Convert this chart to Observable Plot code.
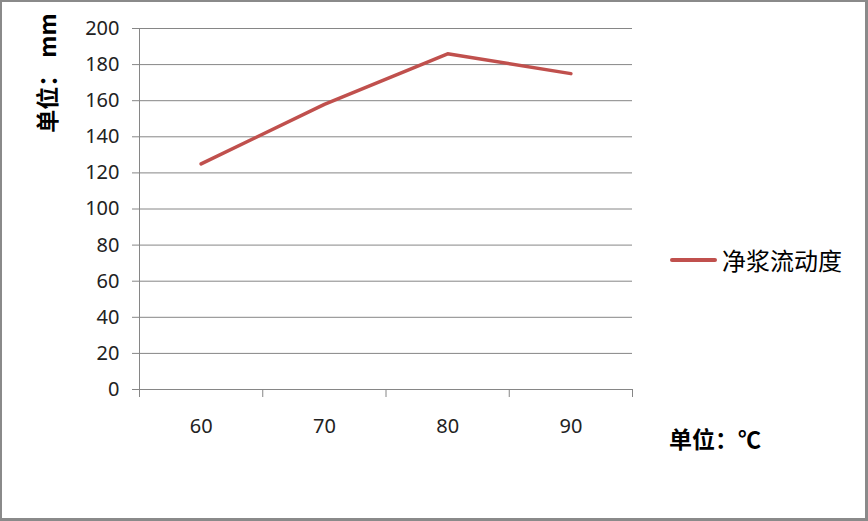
<!DOCTYPE html>
<html>
<head>
<meta charset="utf-8">
<script src="https://cdn.jsdelivr.net/npm/d3@7"></script>
<script src="https://cdn.jsdelivr.net/npm/@observablehq/plot@0.6"></script>
<style>
  html, body { margin: 0; padding: 0; background: #fff; }
  #wrap { position: relative; width: 868px; height: 521px; overflow: hidden; }
  #border { position: absolute; left: 0; top: 0; width: 868px; height: 521px; box-sizing: border-box; border: 2px solid #8a8a8a; border-right-width: 3px; border-bottom-width: 3px; pointer-events: none; }
  .lbl { position: absolute; font-family: "Noto Sans CJK SC", sans-serif; color: #000; white-space: nowrap; line-height: 1; }
  #ytitle { left: 46px; top: 73px; transform: translate(-50%, -50%) rotate(-90deg); font-weight: bold; font-size: 23px; }
  #ytitle .u { margin-left: 6px; }
  #xtitle { left: 669px; top: 427px; font-weight: bold; font-size: 23px; }
  #legend { left: 670px; top: 248px; font-size: 24px; display: flex; align-items: center; }
  #legend .sw { width: 47px; height: 4px; background: #C0504D; border-radius: 2px; margin-right: 5px; }
</style>
</head>
<body>
<div id="wrap">
  <div id="chart"></div>
  <div id="ytitle" class="lbl">单位：<span class="u">mm</span></div>
  <div id="xtitle" class="lbl">单位：℃</div>
  <div id="legend" class="lbl"><span class="sw"></span><span>净浆流动度</span></div>
  <div id="border"></div>
</div>
<script>
const temperatures = [60, 70, 80, 90];
const fluidity = [125, 158, 186, 175];
const yTicks = [0, 20, 40, 60, 80, 100, 120, 140, 160, 180, 200];
const xEdges = [55, 65, 75, 85, 95];
const seriesName = "净浆流动度";

const data = temperatures.map((t, i) => ({t, v: fluidity[i]}));
const gridColor = "#868686";

const chart = Plot.plot({
  width: 868,
  height: 521,
  marginLeft: 139,
  marginRight: 236,
  marginTop: 28,
  marginBottom: 132,
  style: { fontFamily: "'Noto Sans', sans-serif", fontSize: "20px", color: "#222", background: "transparent" },
  x: { domain: [55, 95], axis: null },
  y: { domain: [0, 200], axis: null },
  marks: [
    Plot.gridY(yTicks, { stroke: gridColor, strokeOpacity: 1, strokeWidth: 1 }),
    Plot.axisY(yTicks, { tickSize: 7, tickPadding: 13, stroke: gridColor, strokeOpacity: 1, fontSize: 20, fill: "#222", label: null }),
    Plot.ruleX([55], { stroke: gridColor, strokeWidth: 1 }),
    Plot.ruleY([0], { stroke: gridColor, strokeWidth: 1 }),
    Plot.axisX(xEdges, { tickSize: 8, tickFormat: () => "", stroke: gridColor, strokeOpacity: 1, label: null }),
    Plot.axisX(temperatures, { tickSize: 0, tickPadding: 29, fontSize: 20, fill: "#222", label: null, tickFormat: d => String(d) }),
    Plot.line(data, { x: "t", y: "v", stroke: "#C0504D", strokeWidth: 3.5, strokeLinecap: "round", strokeLinejoin: "round" })
  ]
});
document.getElementById("chart").appendChild(chart);
</script>
</body>
</html>
